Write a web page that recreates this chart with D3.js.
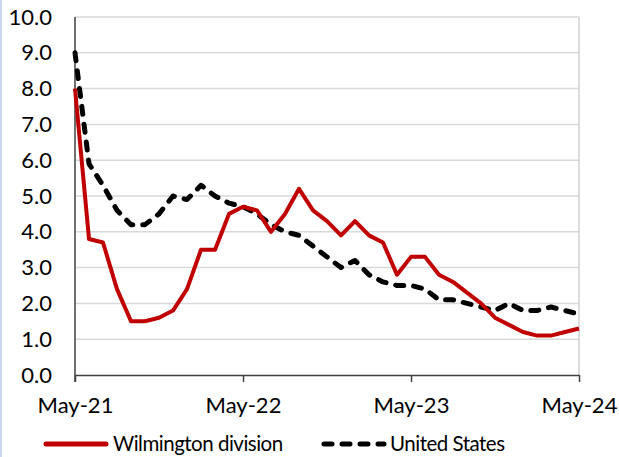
<!DOCTYPE html>
<html>
<head>
<meta charset="utf-8">
<script src="https://cdn.jsdelivr.net/npm/d3@7"></script>
<style>
  html, body { margin: 0; padding: 0; background: #fff; }
  svg { display: block; }
  text { font-family: Lato, "Open Sans", sans-serif; fill: #000; }
</style>
</head>
<body>
<script>
// Monthly categories, May 2021 through May 2024
const months = d3.timeMonth.range(new Date(2021, 4, 1), new Date(2024, 5, 1)).map(d3.timeFormat("%b-%y"));
const yearTicks = ["May-21", "May-22", "May-23", "May-24"];
const yTicks = [0, 1, 2, 3, 4, 5, 6, 7, 8, 9, 10];

const wilmington = [8.0, 3.8, 3.7, 2.4, 1.5, 1.5, 1.6, 1.8, 2.4, 3.5, 3.5, 4.5, 4.7,
                    4.6, 4.0, 4.5, 5.2, 4.6, 4.3, 3.9, 4.3, 3.9, 3.7, 2.8, 3.3,
                    3.3, 2.8, 2.6, 2.3, 2.0, 1.6, 1.4, 1.2, 1.1, 1.1, 1.2, 1.3];
const unitedStates = [9.0, 5.9, 5.3, 4.6, 4.2, 4.2, 4.5, 5.0, 4.9, 5.3, 5.0, 4.8, 4.7,
                      4.5, 4.2, 4.0, 3.9, 3.6, 3.3, 3.0, 3.2, 2.8, 2.6, 2.5, 2.5,
                      2.4, 2.1, 2.1, 2.0, 1.9, 1.8, 2.0, 1.8, 1.8, 1.9, 1.8, 1.7];

const W = 619, H = 457;
const plotL = 75, plotR = 579, plotT = 17, plotB = 375;

const svg = d3.select("body").append("svg").attr("width", W).attr("height", H);

// thin pale-blue edge on the left of the frame
svg.append("rect").attr("x", 0).attr("y", 0).attr("width", 2).attr("height", H).attr("fill", "#c9d8ec");

const x = d3.scalePoint().domain(months).range([plotL, plotR]).padding(0);
const y = d3.scaleLinear().domain([0, 10]).range([plotB, plotT]);

// horizontal gridlines
svg.append("g").selectAll("line").data(yTicks.filter(d => d > 0)).join("line")
  .attr("x1", plotL).attr("x2", plotR)
  .attr("y1", d => y(d)).attr("y2", d => y(d))
  .attr("stroke", "#d9d9d9").attr("stroke-width", 1.5);

// right edge of the plot area
svg.append("line").attr("x1", plotR).attr("x2", plotR).attr("y1", plotT).attr("y2", plotB)
  .attr("stroke", "#d0d0d0").attr("stroke-width", 1.5);

// y axis labels
const yAxis = svg.append("g").attr("transform", `translate(${plotL},0)`)
  .call(d3.axisLeft(y).tickValues(yTicks).tickSize(0).tickPadding(23).tickFormat(d3.format(".1f")));
yAxis.select(".domain").remove();
yAxis.selectAll("text").attr("font-size", 22).attr("font-family", "Lato, sans-serif").attr("fill", "#000");

// y axis line, continuing below the x axis like a tick
svg.append("line").attr("x1", plotL).attr("x2", plotL).attr("y1", plotT).attr("y2", plotB + 7)
  .attr("stroke", "#404040").attr("stroke-width", 1.5);

// x axis
const xAxis = svg.append("g").attr("transform", `translate(0,${plotB})`)
  .call(d3.axisBottom(x).tickValues(yearTicks).tickSize(7).tickSizeOuter(0).tickPadding(15));
xAxis.select(".domain").attr("stroke", "#404040").attr("stroke-width", 1.5);
xAxis.selectAll(".tick line").attr("stroke", "#404040").attr("stroke-width", 1.5);
xAxis.selectAll("text").attr("font-size", 22).attr("font-family", "Lato, sans-serif").attr("fill", "#000");

const line = d3.line().x((d, i) => x(months[i])).y(d => y(d));

svg.append("path").datum(unitedStates).attr("d", line)
  .attr("fill", "none").attr("stroke", "#000").attr("stroke-width", 5)
  .attr("stroke-linecap", "round").attr("stroke-linejoin", "round")
  .attr("stroke-dasharray", "8,10");

svg.append("path").datum(wilmington).attr("d", line)
  .attr("fill", "none").attr("stroke", "#c00000").attr("stroke-width", 4)
  .attr("stroke-linejoin", "round");

// legend
const legendY = 444;
const legend = svg.append("g");
legend.append("line").attr("x1", 46).attr("x2", 106).attr("y1", legendY).attr("y2", legendY)
  .attr("stroke", "#c00000").attr("stroke-width", 5).attr("stroke-linecap", "round");
legend.append("text").attr("x", 113).attr("y", legendY).attr("dy", "0.36em")
  .attr("font-size", 20.5).attr("letter-spacing", -0.5).text("Wilmington division");
legend.append("line").attr("x1", 324).attr("x2", 384).attr("y1", legendY).attr("y2", legendY)
  .attr("stroke", "#000").attr("stroke-width", 5).attr("stroke-linecap", "round")
  .attr("stroke-dasharray", "8,10");
legend.append("text").attr("x", 390).attr("y", legendY).attr("dy", "0.36em")
  .attr("font-size", 20.5).attr("letter-spacing", -0.5).text("United States");
</script>
</body>
</html>
